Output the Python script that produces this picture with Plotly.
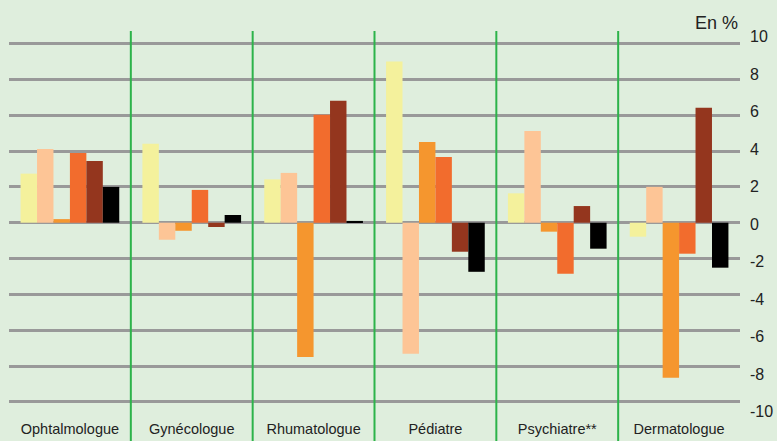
import plotly.graph_objects as go

categories = ["Ophtalmologue", "Gynécologue", "Rhumatologue", "Pédiatre", "Psychiatre**", "Dermatologue"]
series_names = ["Série 1", "Série 2", "Série 3", "Série 4", "Série 5", "Série 6"]
series_values = [
    [2.74, 4.40, 2.42, 9.00, 1.64, -0.78],
    [4.12, -0.95, 2.78, -7.32, 5.12, 2.00],
    [0.20, -0.45, -7.49, 4.51, -0.50, -8.66],
    [3.89, 1.83, 6.02, 3.67, -2.85, -1.73],
    [3.45, -0.24, 6.80, -1.62, 0.93, 6.41],
    [2.00, 0.43, 0.10, -2.74, -1.45, -2.51],
]
colors = ["#f4f19c", "#fdc596", "#f5962e", "#f26c2d", "#94361e", "#000000"]
tick_vals = [10, 8, 6, 4, 2, 0, -2, -4, -6, -8, -10]
tick_text = ["10", "8", "6", "4", "2", "0", "-2", "-4", "-6", "-8", "-10"]

bg = "#dfeedd"
fig = go.Figure()
for name, vals, col in zip(series_names, series_values, colors):
    fig.add_trace(go.Bar(x=categories, y=vals, name=name, marker_color=col,
                         marker_line_width=0, showlegend=False))

# invisible trace carrying the right-hand label axis
fig.add_trace(go.Scatter(x=[categories[0]], y=[0], yaxis="y2", mode="markers",
                         marker=dict(opacity=0), showlegend=False, hoverinfo="skip"))

for i in range(len(categories) - 1):
    fig.add_shape(type="line", xref="x", yref="paper", x0=i + 0.5, x1=i + 0.5,
                  y0=-0.1, y1=1.0, line=dict(color="#2db34a", width=2), layer="above")

fig.add_annotation(text="En %", xref="paper", yref="paper", x=1.0, y=1.0,
                   xanchor="right", yanchor="bottom", showarrow=False, yshift=-4,
                   font=dict(size=18, color="#222222", family="Liberation Sans, Arial, sans-serif"))

fig.update_layout(
    width=777, height=441,
    margin=dict(l=9, r=37, t=31, b=23),
    paper_bgcolor=bg, plot_bgcolor=bg,
    barmode="group", bargap=0.19, bargroupgap=0,
    font=dict(family="Liberation Sans, Arial, sans-serif", color="#222222"),
    xaxis=dict(type="category", showgrid=False, zeroline=False, showline=False,
               ticks="", tickfont=dict(size=14.5), ticklabelstandoff=0,
               range=[-0.5, 5.5], automargin=False),
    yaxis=dict(range=[-10.9, 10.7], tickvals=tick_vals, showticklabels=False,
               showgrid=True, gridcolor="#999999", gridwidth=2.5,
               zeroline=True, zerolinecolor="#999999", zerolinewidth=2.5,
               automargin=False),
    yaxis2=dict(overlaying="y", side="right", range=[-10.35, 10.29],
                tickvals=tick_vals, ticktext=tick_text, showgrid=False,
                zeroline=False, showline=False, ticks="", ticklabelstandoff=9,
                tickfont=dict(size=16, color="#222222"), automargin=False),
)

fig.write_html("out.html", config={"displayModeBar": False},
               post_script="document.body.style.margin='0';document.body.style.background='%s';" % bg)
